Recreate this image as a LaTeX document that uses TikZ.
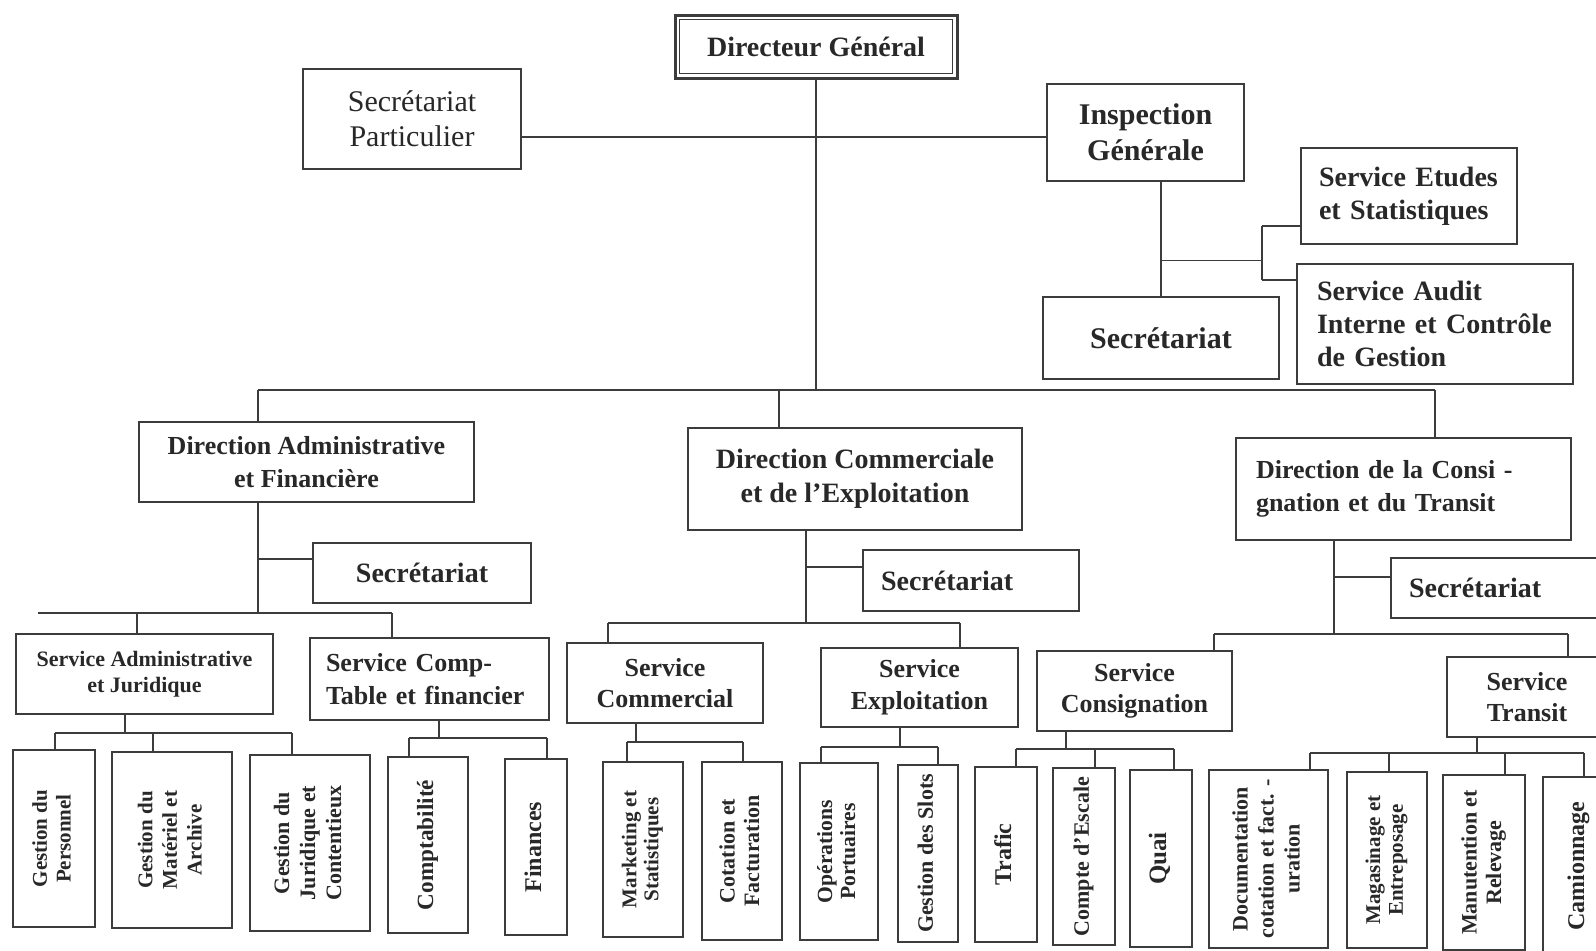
\documentclass[tikz,border=0pt]{standalone}
\usepackage{fontspec}
\setmainfont{Liberation Serif}
\definecolor{ink}{RGB}{40,40,40}
\definecolor{ln}{RGB}{60,60,60}
\newcommand{\vt}[3]{\rotatebox{90}{\fontsize{#1}{#2}\selectfont\begin{tabular}{@{}c@{}}#3\end{tabular}}}
\begin{document}
\begin{tikzpicture}[x=0.5pt,y=-0.5pt,
  bx/.style={draw=ln,line width=0.9pt,text=ink,inner sep=0pt,align=center},
  sz/.style 2 args={minimum width=#1*0.5pt,minimum height=#2*0.5pt},
  lft/.style 2 args={align=left,text width=#1,inner xsep=#2},
  fs/.style 2 args={font=\bfseries\fontsize{#1}{#2}\selectfont},
  con/.style={draw=ln,line width=0.8pt},
  leaf/.style={bx,font=\bfseries}]
\useasboundingbox (0,0) rectangle (1596,950);
\clip (0,0) rectangle (1596,950);
\fill[white] (0,0) rectangle (1596,950);

% ---- top level
\node[bx,sz={282}{63},fs={14}{17},line width=1.5pt] (dg) at (816,46.5) {Directeur Général};
\draw[ln,line width=0.6pt] ([xshift=3pt,yshift=-3pt]dg.north west) rectangle ([xshift=-3pt,yshift=3pt]dg.south east);
\node[bx,sz={218}{100},font=\fontsize{15}{17.5}\selectfont] (sp) at (412,119) {Secrétariat\\Particulier};
\node[bx,sz={197}{97},fs={15}{17.8}] (insp) at (1145.5,132.5) {Inspection\\Générale};
\node[bx,sz={216}{96},fs={14}{16.3},lft={90pt}{9pt}] (etu) at (1409,196) {Service Etudes\\et Statistiques};
\node[bx,sz={276}{120},fs={14}{16.5},lft={118pt}{10pt}] (aud) at (1435,324) {Service Audit\\Interne et Contrôle\\de Gestion};
\node[bx,sz={236}{82},fs={15}{18}] (isec) at (1161,338) {Secrétariat};

% ---- directions
\node[bx,sz={335}{80},fs={13}{16.3}] (daf) at (306.5,462) {Direction Administrative\\et Financière};
\node[bx,sz={334}{102},fs={14}{16.8}] (dce) at (855,479) {Direction Commerciale\\et de l’Exploitation};
\node[bx,sz={335}{102},fs={13}{16.3},lft={147.5pt}{10pt}] (dct) at (1403.5,489) {Direction de la Consi -\\gnation et du Transit};
\node[bx,sz={218}{60},fs={14}{17}] (dsec) at (422,573) {Secrétariat};
\node[bx,sz={216}{61},fs={14}{17},lft={90pt}{9pt}] (csec) at (971,580.5) {Secrétariat};
\node[bx,sz={218}{60},fs={14}{17},lft={91pt}{9pt}] (tsec) at (1500,588) {Secrétariat};

% ---- services
\node[bx,sz={257}{80},fs={11}{12.7}] (sadm) at (144.5,674) {Service Administrative\\et Juridique};
\node[bx,sz={239}{82},fs={13}{16.3},lft={103.5pt}{8pt}] (scpt) at (429.5,679) {Service Comp-\\Table et financier};
\node[bx,sz={196}{80},fs={13}{15.8}] (scom) at (665,683) {Service\\Commercial};
\node[bx,sz={197}{79},fs={13}{15.8}] (sexp) at (919.5,687.5) {Service\\Exploitation};
\node[bx,sz={195}{80},fs={13}{15.8}] (scon) at (1134.5,691) {Service\\Consignation};
\node[bx,sz={160}{80},fs={13}{15.8}] (stra) at (1527,697) {Service\\Transit};

% ---- leaves
\node[leaf,sz={82}{177}] (gp) at (54,838.5) {\vt{10.5}{11.8}{Gestion du\\Personnel}};
\node[leaf,sz={120}{176}] (gm) at (172,840) {\vt{10.5}{12.3}{Gestion du\\Matériel et\\Archive}};
\node[leaf,sz={120}{176}] (gj) at (310,843) {\vt{11}{13}{Gestion du\\Juridique et\\Contentieux}};
\node[leaf,sz={80}{176}] (compt) at (428,845) {\vt{11.6}{13}{Comptabilité}};
\node[leaf,sz={62}{176}] (fin) at (536,847) {\vt{12}{13}{Finances}};
\node[leaf,sz={80}{175}] (mkt) at (643,849.5) {\vt{10.5}{11}{Marketing et\\Statistiques}};
\node[leaf,sz={80}{178}] (cot) at (742,851) {\vt{11}{12.3}{Cotation et\\Facturation}};
\node[leaf,sz={78}{177}] (op) at (839,851.5) {\vt{10.8}{11.5}{Opérations\\Portuaires}};
\node[leaf,sz={60}{177}] (slot) at (928,853.5) {\vt{11}{12}{Gestion des Slots}};
\node[leaf,sz={62}{175}] (traf) at (1006,854.5) {\vt{12}{13}{Trafic}};
\node[leaf,sz={62}{177}] (esc) at (1084,856.5) {\vt{11}{12}{Compte d’Escale}};
\node[leaf,sz={62}{177}] (quai) at (1161,858.5) {\vt{12.5}{13}{Quai}};
\node[leaf,sz={119}{178}] (doc) at (1268.5,859) {\vt{11}{13}{Documentation\\cotation et fact. -\\uration}};
\node[leaf,sz={80}{176}] (mag) at (1387,860) {\vt{10.5}{11.3}{Magasinage et\\Entreposage}};
\node[leaf,sz={82}{175}] (man) at (1484,862.5) {\vt{11}{12.3}{Manutention et\\Relevage}};
\node[leaf,sz={72}{178}] (cam) at (1579,866) {\vt{12}{13}{Camionnage}};

% ---- connectors: top
\draw[con] ([yshift=-9pt]sp.east) -- ([yshift=-9pt]sp.east -| insp.west);
\coordinate (mbL) at (258,390);
\coordinate (mbC) at (779,390);
\coordinate (mbR) at (1435,390);
\draw[con] (dg.south) -- (dg.south |- mbL);
\draw[con] (mbL) -- (mbR);
\draw[con] (mbL) -- (mbL |- daf.north);
\draw[con] (mbC) -- (mbC |- dce.north);
\draw[con] (mbR) -- (mbR |- dct.north);
\draw[con] (isec.north |- insp.south) -- (isec.north);
\coordinate (ib) at (1262,260.6);
\coordinate (ib1) at (1262,226);
\coordinate (ib2) at (1262,280);
\draw[con] (ib -| isec.north) -- (ib);
\draw[con] (ib1) -- (ib2);
\draw[con] (ib1) -- (ib1 -| etu.west);
\draw[con] (ib2) -- (ib2 -| aud.west);

% ---- DAF
\coordinate (dafs) at (258,559);
\coordinate (dafL) at (38,613);
\coordinate (dafb) at (258,613);
\coordinate (dafR) at (392,613);
\coordinate (dafA) at (137,613);
\draw[con] (dafb |- daf.south) -- (dafb);
\draw[con] (dafs) -- (dafs -| dsec.west);
\draw[con] (dafL) -- (dafR);
\draw[con] (dafA) -- (dafA |- sadm.north);
\draw[con] (dafR) -- (dafR |- scpt.north);

% ---- DCE
\coordinate (dces) at (806,567);
\coordinate (dceb) at (806,623);
\coordinate (dceL) at (608,623);
\coordinate (dceR) at (960,623);
\draw[con] (dceb |- dce.south) -- (dceb);
\draw[con] (dces) -- (dces -| csec.west);
\draw[con] (dceL) -- (dceR);
\draw[con] (dceL) -- (dceL |- scom.north);
\draw[con] (dceR) -- (dceR |- sexp.north);

% ---- DCT
\coordinate (dcts) at (1334,577);
\coordinate (dctb) at (1334,634);
\coordinate (dctL) at (1214,634);
\coordinate (dctR) at (1568,634);
\draw[con] (dctb |- dct.south) -- (dctb);
\draw[con] (dcts) -- (dcts -| tsec.west);
\draw[con] (dctL) -- (dctR);
\draw[con] (dctL) -- (dctL |- scon.north);
\draw[con] (dctR) -- (dctR |- stra.north);

% ---- service stems to leaf bars
\foreach \s/\xx/\yy in {sadm/125/733, scpt/439/738, scom/636/742, sexp/900/747, scon/1066/749, stra/1477/753}{
  \coordinate (\s-b) at (\xx,\yy);
  \draw[con] (\s-b |- \s.south) -- (\s-b);
}
\foreach \n/\xx/\yy in {gp/55/733, gm/153/733, gj/292/733, compt/409/738, fin/547/738,
  mkt/627/742, cot/743/742, op/821/747, slot/938/747, traf/1016/749, esc/1095/749, quai/1174/749,
  doc/1310/753, mag/1389/753, man/1505/753, cam/1584/753}{
  \coordinate (\n-t) at (\xx,\yy);
  \draw[con] (\n-t) -- (\n-t |- \n.north);
}
\draw[con] (gp-t) -- (gj-t);
\draw[con] (compt-t) -- (fin-t);
\draw[con] (mkt-t) -- (cot-t);
\draw[con] (op-t) -- (slot-t);
\draw[con] (traf-t) -- (quai-t);
\draw[con] (doc-t) -- (cam-t);
\end{tikzpicture}
\end{document}
